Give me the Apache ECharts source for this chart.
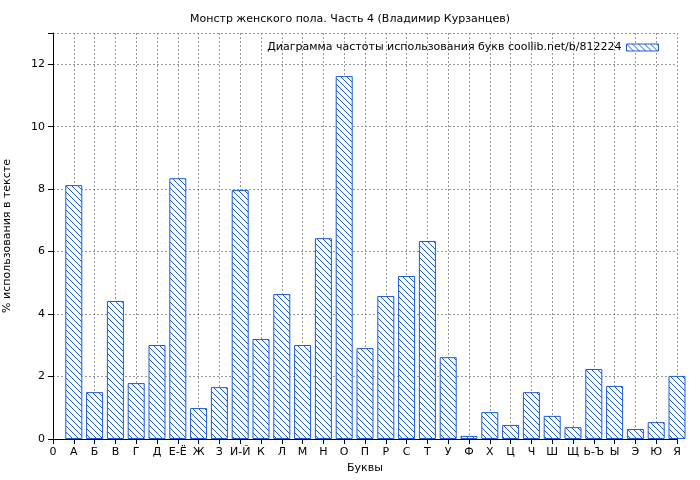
<!DOCTYPE html>
<html><head><meta charset="utf-8">
<script src="https://cdn.jsdelivr.net/npm/echarts@6/dist/echarts.min.js"></script>
<style>body{margin:0;background:#fff}#c{width:700px;height:480px}</style>
</head><body><div id="c"></div>
<script>
const tickLabels = ['0','А','Б','В','Г','Д','Е-Ё','Ж','З','И-Й','К','Л','М','Н','О','П','Р','С','Т','У','Ф','Х','Ц','Ч','Ш','Щ','Ь-Ъ','Ы','Э','Ю','Я'];
const letters = tickLabels.slice(1);
const values = [8.13,1.50,4.42,1.79,3.01,8.35,0.99,1.66,7.97,3.20,4.64,3.01,6.43,11.62,2.91,4.58,5.22,6.34,2.62,0.10,0.86,0.45,1.50,0.74,0.38,2.24,1.70,0.32,0.54,2.02];
const yTicks = [0,2,4,6,8,10,12];

const cv = document.createElement('canvas'); cv.width = 6; cv.height = 6;
const g = cv.getContext('2d'); g.fillStyle = '#fff'; g.fillRect(0,0,6,6);
g.strokeStyle = '#1a5ad8'; g.lineWidth = 1;
g.beginPath(); g.moveTo(-1,-1); g.lineTo(7,7); g.moveTo(-1,5); g.lineTo(1,7); g.moveTo(5,-1); g.lineTo(7,1); g.stroke();
const pat = {image: cv, repeat: 'repeat'};

const chart = echarts.init(document.getElementById('c'));
const font = 'DejaVu Sans';
chart.setOption({
  animation: false,
  textStyle: {fontFamily: font},
  title: {text: 'Монстр женского пола. Часть 4 (Владимир Курзанцев)', left: 'center', top: 9,
    textStyle: {fontSize: 11, fontWeight: 'normal', color: '#000', fontFamily: font}},
  legend: {right: 36, top: 37, itemWidth: 32, itemHeight: 7, itemGap: 6, icon: 'rect',
    textStyle: {fontSize: 11, color: '#000', fontFamily: font}, align: 'right',
    data: [{name: 'Диаграмма частоты использования букв coollib.net/b/812224', itemStyle: {color: pat, borderColor: '#1a5ad8', borderWidth: 1}}]},
  grid: {left: 53, right: 23, top: 33, bottom: 41, outerBoundsMode: 'none', containLabel: false},
  xAxis: {type: 'value', min: 0, max: 30, interval: 1,
    name: 'Буквы', nameLocation: 'middle', nameGap: 24, nameTextStyle: {fontSize: 11, color: '#000'},
    axisLine: {lineStyle: {color: '#000'}}, axisTick: {show: true, lineStyle: {color: '#000'}},
    axisLabel: {fontSize: 11, color: '#000', formatter: v => tickLabels[v] || ''},
    splitLine: {show: true, lineStyle: {color: '#999', type: [2,2]}}},
  yAxis: {type: 'value', min: 0, max: 13, interval: 2,
    name: '% использования в тексте', nameLocation: 'middle', nameGap: 40, nameTextStyle: {fontSize: 11, color: '#000'},
    axisLine: {show: true, lineStyle: {color: '#000'}}, axisTick: {show: true, lineStyle: {color: '#000'}},
    axisLabel: {fontSize: 11, color: '#000', formatter: v => yTicks.includes(v) ? String(v) : ''},
    splitLine: {show: true, lineStyle: {color: '#999', type: [2,2]}}},
  series: [{name: 'Диаграмма частоты использования букв coollib.net/b/812224', type: 'bar', barWidth: 17, clip: true,
    itemStyle: {color: pat, borderColor: '#1a5ad8', borderWidth: 1},
    data: values.map((v,i) => [i+1, v])}]
});
</script></body></html>
